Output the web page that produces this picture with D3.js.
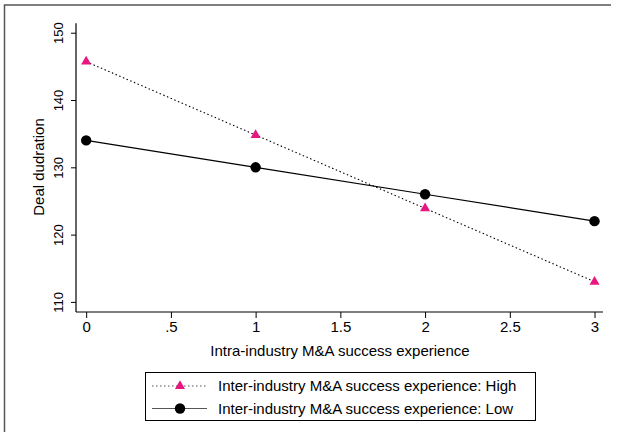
<!DOCTYPE html>
<html>
<head>
<meta charset="utf-8">
<script src="https://cdn.jsdelivr.net/npm/d3@7"></script>
<style>
  html, body { margin: 0; padding: 0; background: #fff; }
  svg { display: block; font-family: "Liberation Sans", Arial, sans-serif; }
</style>
</head>
<body>
<svg id="chart" width="620" height="432"></svg>
<script>
// Predicted deal duration by intra-industry success experience
const xValues = [0, 1, 2, 3];
const highValues = [145.7, 134.8, 123.9, 113.0];
const lowValues = [134.0, 130.0, 126.0, 122.0];
const xTicks = [0, 0.5, 1, 1.5, 2, 2.5, 3];
const yTicks = [110, 120, 130, 140, 150];
const seriesNames = [
  "Inter-industry M&A success experience: High",
  "Inter-industry M&A success experience: Low"
];

const svg = d3.select("#chart");
const pink = "#e8177f";

// outer frame (top and left edges visible)
svg.append("path")
  .attr("d", "M4.5,432 V5 H611")
  .attr("fill", "none").attr("stroke", "#555").attr("stroke-width", 1.5);

// plot region includes a little padding around the data range
const x = d3.scaleLinear().domain([-0.06, 3.05]).range([76, 603]);
const y = d3.scaleLinear().domain([108.5, 151.4]).range([312, 23.3]);

// y axis
const yAxis = svg.append("g").attr("transform", "translate(76,0)")
  .call(d3.axisLeft(y).tickValues(yTicks).tickSize(5).tickFormat(d3.format("d")));
yAxis.select(".domain").attr("d", `M0,${y.range()[1]}V${y.range()[0]}`)
  .attr("stroke", "#000").attr("stroke-width", 1.2);
yAxis.selectAll(".tick line").attr("stroke", "#000");
yAxis.selectAll(".tick text")
  .attr("font-size", 13).attr("fill", "#000")
  .attr("x", null).attr("dy", null)
  .attr("text-anchor", "middle")
  .attr("transform", "translate(-13.3,0) rotate(-90)");

// x axis
const fmtX = d => (d > 0 && d < 1) ? String(d).replace(/^0/, "") : String(d);
const xAxis = svg.append("g").attr("transform", "translate(0,312)")
  .call(d3.axisBottom(x).tickValues(xTicks).tickSize(6).tickFormat(fmtX));
xAxis.select(".domain").attr("d", `M${x.range()[0]},0H${x.range()[1]}`)
  .attr("stroke", "#000").attr("stroke-width", 1.2);
xAxis.selectAll(".tick line").attr("stroke", "#000");
xAxis.selectAll(".tick text").attr("font-size", 15).attr("fill", "#000").attr("y", 9);

// axis titles
svg.append("text")
  .attr("transform", "translate(44,167) rotate(-90)")
  .attr("text-anchor", "middle").attr("font-size", 15).attr("fill", "#000")
  .text("Deal dudration");
svg.append("text")
  .attr("x", 340).attr("y", 355.5)
  .attr("text-anchor", "middle").attr("font-size", 15).attr("fill", "#000")
  .text("Intra-industry M&A success experience");

const line = d3.line().x(d => x(d[0])).y(d => y(d[1]));
const highPts = xValues.map((v, i) => [v, highValues[i]]);
const lowPts = xValues.map((v, i) => [v, lowValues[i]]);

const tri = d3.symbol().type(d3.symbolTriangle).size(44);

// Low series: solid line with circles
svg.append("path").datum(lowPts).attr("d", line)
  .attr("fill", "none").attr("stroke", "#000").attr("stroke-width", 1.2);
svg.selectAll(".low").data(lowPts).enter().append("circle")
  .attr("cx", d => x(d[0])).attr("cy", d => y(d[1])).attr("r", 5.2).attr("fill", "#000");

// High series: dotted line with triangles
svg.append("path").datum(highPts).attr("d", line)
  .attr("fill", "none").attr("stroke", "#000").attr("stroke-width", 1.1)
  .attr("stroke-dasharray", "1.5,2.5");
svg.selectAll(".high").data(highPts).enter().append("path")
  .attr("d", tri).attr("fill", pink)
  .attr("transform", d => `translate(${x(d[0])},${y(d[1])})`);

// legend
const lg = svg.append("g");
lg.append("rect").attr("x", 145.5).attr("y", 372.5).attr("width", 390).attr("height", 48)
  .attr("fill", "#fff").attr("stroke", "#000").attr("stroke-width", 1);
const rows = [386, 408.5];
lg.append("line").attr("x1", 152).attr("x2", 207).attr("y1", rows[0]).attr("y2", rows[0])
  .attr("stroke", "#555").attr("stroke-width", 1).attr("stroke-dasharray", "1.5,2.5");
lg.append("path").attr("d", tri).attr("fill", pink).attr("transform", `translate(180,${rows[0]})`);
lg.append("line").attr("x1", 152).attr("x2", 207).attr("y1", rows[1]).attr("y2", rows[1])
  .attr("stroke", "#555").attr("stroke-width", 1.1);
lg.append("circle").attr("cx", 180).attr("cy", rows[1]).attr("r", 5.2).attr("fill", "#000");
seriesNames.forEach((name, i) => {
  lg.append("text").attr("x", 218).attr("y", rows[i]).attr("dy", "0.35em")
    .attr("font-size", 15).attr("fill", "#000").text(name);
});
</script>
</body>
</html>
